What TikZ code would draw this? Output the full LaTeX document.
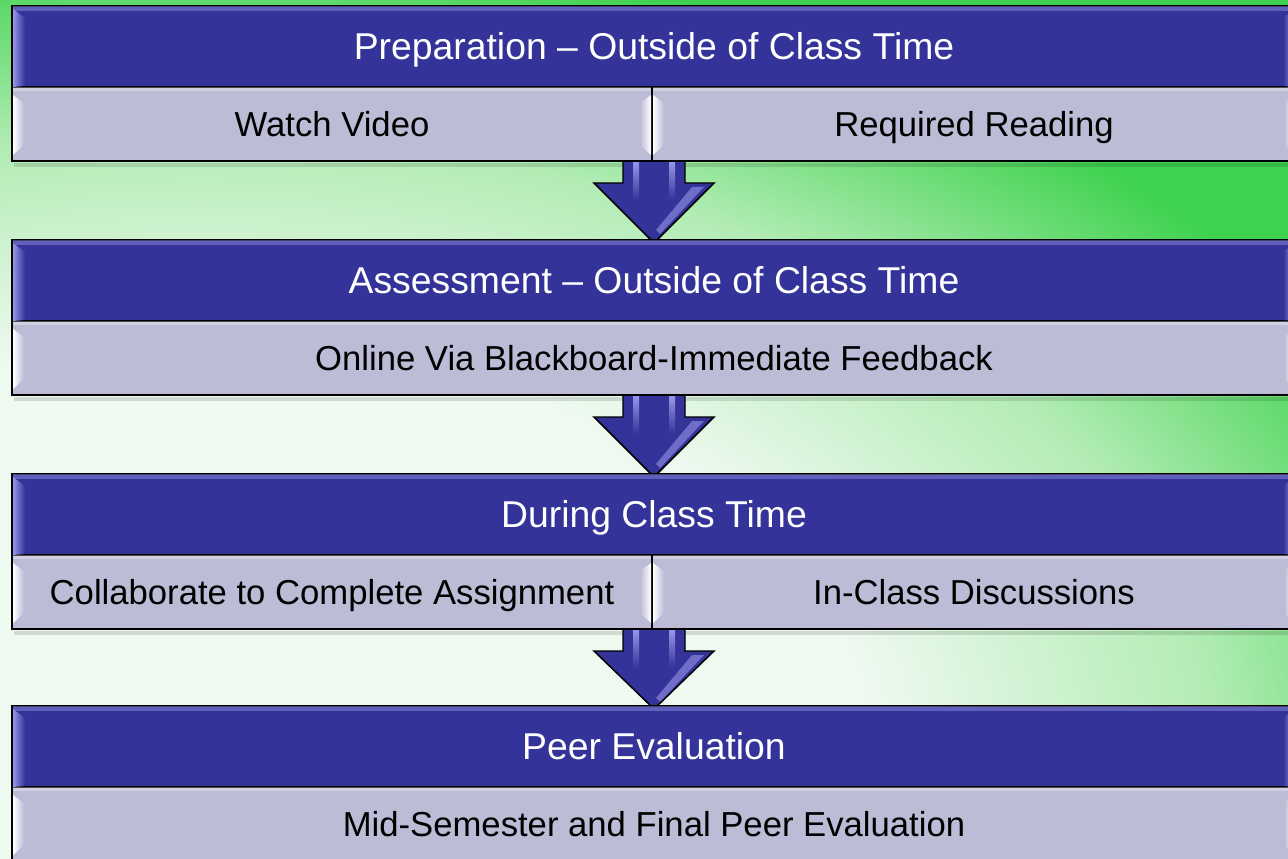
\documentclass[tikz,border=0pt]{standalone}
\usepackage{fontspec}
\setmainfont{Liberation Sans}
\usetikzlibrary{calc}

\definecolor{hdrblue}{RGB}{51,51,153}
\definecolor{hdrlite}{RGB}{150,150,232}
\definecolor{sublav}{RGB}{188,188,214}
\definecolor{bggreen}{RGB}{62,210,78}
\definecolor{bgmid}{RGB}{178,236,180}
\definecolor{bgpale}{RGB}{238,249,240}
\pgfdeclareradialshading{bgglow}{\pgfpoint{0bp}{0bp}}{color(0bp)=(bgpale); color(13bp)=(bgpale); color(19.5bp)=(bgmid); color(25.5bp)=(bggreen); color(50bp)=(bggreen)}

\pgfdeclarelayer{bg}
\pgfdeclarelayer{arrows}
\pgfsetlayers{bg,arrows,main}

\tikzset{every picture/.style={line width=0.75pt}}
\tikzset{
  hdr/.style={draw=black, line width=1.5pt, fill=hdrblue, text=white, inner sep=0pt,
    minimum width=963pt, minimum height=60.75pt, text height=20pt, text depth=0pt,
    font=\fontsize{28}{33}\selectfont},
  subrow/.style={draw=black, line width=1.5pt, fill=sublav, text=black, inner sep=0pt,
    minimum height=55.5pt, text height=18.6pt, text depth=0pt,
    font=\fontsize{26}{31}\selectfont},
  subfull/.style={subrow, minimum width=963pt},
  subleft/.style={subrow, minimum width=480pt},
  subright/.style={subrow, minimum width=483pt},
  blkarrow/.style={draw=black, line width=1.1pt, fill=hdrblue, line join=miter},
}

\begin{document}
\begin{tikzpicture}[x=0.75pt,y=0.75pt,yscale=-1,xscale=1]
\useasboundingbox (0,0) rectangle (1288,859);

% background
\begin{pgfonlayer}{bg}
\fill[bggreen] (0,0) rectangle (1288,859);
\shade[shading=bgglow] (-1100,-40) rectangle (1500,1560);
\end{pgfonlayer}

% step 1
\node[hdr] (prep) at (654,46.5) {Preparation – Outside of Class Time};
\node[subleft] (video) at (332,124) {Watch Video};
\node[subright] (reading) at (974,124) {Required Reading};

% step 2
\node[hdr] (assess) at (654,280.5) {Assessment – Outside of Class Time};
\node[subfull] (online) at (654,358) {Online Via Blackboard-Immediate Feedback};

% step 3
\node[hdr] (during) at (654,514.5) {During Class Time};
\node[subleft] (collab) at (332,592) {Collaborate to Complete Assignment};
\node[subright] (discuss) at (974,592) {In-Class Discussions};

% step 4
\node[hdr] (peer) at (654,746.5) {Peer Evaluation};
\node[subfull] (midsem) at (654,824) {Mid-Semester and Final Peer Evaluation};

% bevels on the bars
\foreach \n in {prep,assess,during,peer}{
  \shade[left color=hdrlite, right color=hdrblue] ($(\n.north west)+(2,4)$) -- ($(\n.north west)+(14,13)$) -- ($(\n.south west)+(14,-2)$) -- ($(\n.south west)+(2,-1)$) -- cycle;
  \shade[left color=hdrblue, right color=hdrlite] ($(\n.north east)+(-2,4)$) -- ($(\n.north east)+(-14,13)$) -- ($(\n.south east)+(-14,-2)$) -- ($(\n.south east)+(-2,-1)$) -- cycle;
  \fill[hdrlite, opacity=0.45] ($(\n.north west)+(2,1)$) rectangle ($(\n.north east)+(-2,6)$);
}
\foreach \n in {video,reading,online,collab,discuss,midsem}{
  \shade[left color=white, right color=sublav] ($(\n.north west)+(2,9)$) -- ($(\n.north west)+(13,17)$) -- ($(\n.south west)+(13,-17)$) -- ($(\n.south west)+(2,-7)$) -- cycle;
  \shade[left color=sublav, right color=white] ($(\n.north east)+(-2,9)$) -- ($(\n.north east)+(-13,17)$) -- ($(\n.south east)+(-13,-17)$) -- ($(\n.south east)+(-2,-7)$) -- cycle;
  \fill[white, opacity=0.3] ($(\n.north west)+(2,1)$) rectangle ($(\n.north east)+(-2,5)$);
}

% shadows and arrows between the steps
\begin{pgfonlayer}{arrows}
\foreach \n in {video,reading,online,collab,discuss}{
  \fill[black, opacity=0.12] ($(\n.south west)+(3,1)$) rectangle ($(\n.south east)+(0,5)$);
}
\foreach \s/\t in {video/assess, online/during, collab/peer}{
  \coordinate (top) at (\t.north |- \s.south);
  \draw[blkarrow] ($(top)+(-31,-3)$) -- ($(top)+(-31,21)$) -- ($(top)+(-60,21)$) -- ($(\t.north)+(0,4)$) -- ($(top)+(60,21)$) -- ($(top)+(31,21)$) -- ($(top)+(31,-3)$) -- cycle;
  \shade[top color=hdrlite, bottom color=hdrblue] ($(top)+(-21,0)$) rectangle ($(top)+(-15,38)$);
  \shade[top color=hdrlite, bottom color=hdrblue] ($(top)+(15,0)$) rectangle ($(top)+(21,38)$);
  \fill[hdrlite, opacity=0.6] ($(top)+(50,25)$) -- ($(top)+(38,25)$) -- ($(top)+(2,68)$) -- ($(top)+(6,72)$) -- cycle;
}
\end{pgfonlayer}

\end{tikzpicture}
\end{document}
